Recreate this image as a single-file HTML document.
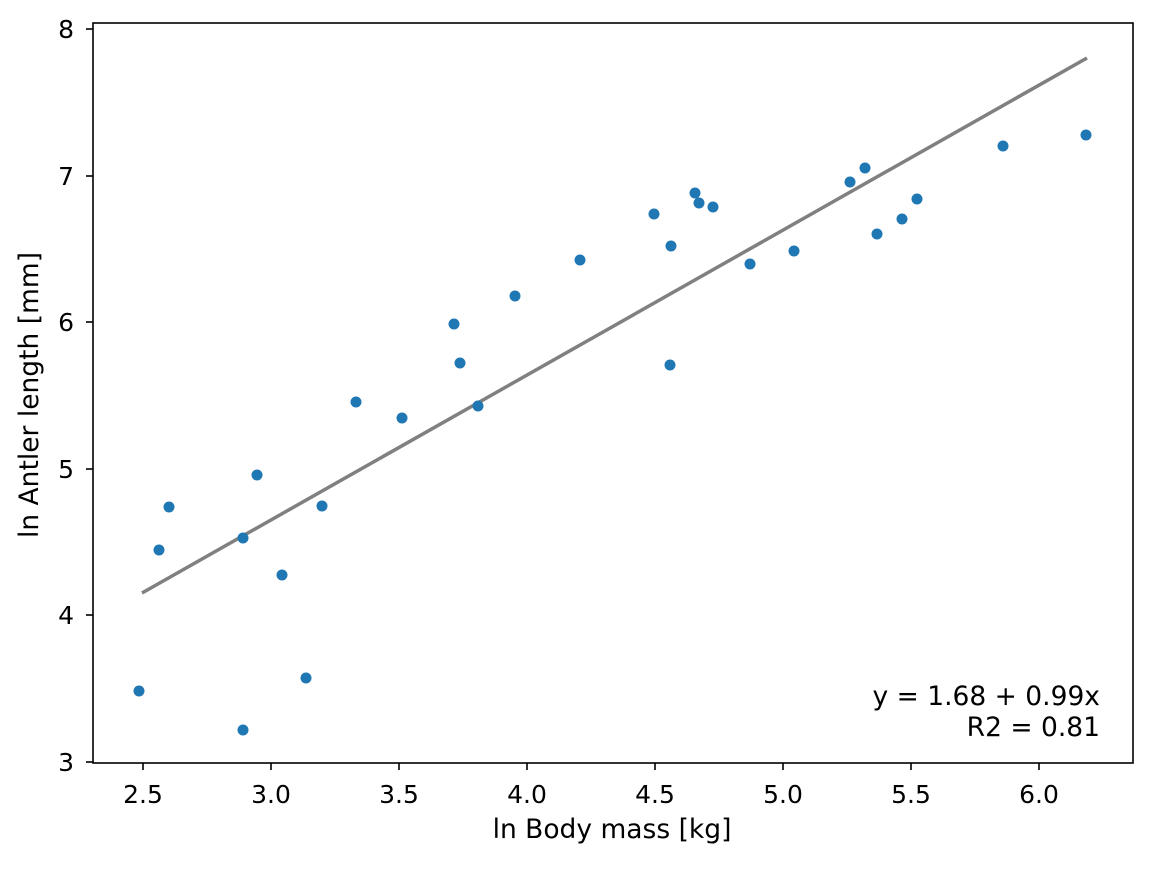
<!DOCTYPE html>
<html><head><meta charset="utf-8"><style>
html,body{margin:0;padding:0;background:#fff;}
svg text{font-family:"DejaVu Sans","Liberation Sans",sans-serif;fill:#000;}
</style></head><body>
<svg width="1152" height="864" viewBox="0 0 1152 864" xmlns="http://www.w3.org/2000/svg">
<rect width="1152" height="864" fill="#fff"/>
<line x1="142" y1="593" x2="1087" y2="58" stroke="#808080" stroke-width="3.5"/>
<g fill="#1f77b4">
<circle cx="139" cy="691" r="5.5"/><circle cx="159" cy="550" r="5.5"/><circle cx="169" cy="507" r="5.5"/>
<circle cx="243" cy="538" r="5.5"/><circle cx="243" cy="730" r="5.5"/><circle cx="257" cy="475" r="5.5"/>
<circle cx="282" cy="575" r="5.5"/><circle cx="306" cy="678" r="5.5"/><circle cx="322" cy="506" r="5.5"/>
<circle cx="356" cy="402" r="5.5"/><circle cx="402" cy="418" r="5.5"/><circle cx="454" cy="324" r="5.5"/>
<circle cx="460" cy="363" r="5.5"/><circle cx="478" cy="406" r="5.5"/><circle cx="515" cy="296" r="5.5"/>
<circle cx="580" cy="260" r="5.5"/><circle cx="654" cy="214" r="5.5"/><circle cx="671" cy="246" r="5.5"/>
<circle cx="670" cy="365" r="5.5"/><circle cx="695" cy="193" r="5.5"/><circle cx="699" cy="203" r="5.5"/>
<circle cx="713" cy="207" r="5.5"/><circle cx="750" cy="264" r="5.5"/><circle cx="794" cy="251" r="5.5"/>
<circle cx="850" cy="182" r="5.5"/><circle cx="865" cy="168" r="5.5"/><circle cx="877" cy="234" r="5.5"/>
<circle cx="902" cy="219" r="5.5"/><circle cx="917" cy="199" r="5.5"/><circle cx="1003" cy="146" r="5.5"/>
<circle cx="1086" cy="135" r="5.5"/>
</g>
<rect x="93" y="23" width="1040" height="740" fill="none" stroke="#000" stroke-width="1.6"/>
<g stroke="#000" stroke-width="1.6">
<line x1="143" y1="763" x2="143" y2="770"/><line x1="271" y1="763" x2="271" y2="770"/>
<line x1="399" y1="763" x2="399" y2="770"/><line x1="527" y1="763" x2="527" y2="770"/>
<line x1="655" y1="763" x2="655" y2="770"/><line x1="783" y1="763" x2="783" y2="770"/>
<line x1="911" y1="763" x2="911" y2="770"/><line x1="1039" y1="763" x2="1039" y2="770"/>
<line x1="86" y1="762" x2="93" y2="762"/><line x1="86" y1="615" x2="93" y2="615"/>
<line x1="86" y1="469" x2="93" y2="469"/><line x1="86" y1="322" x2="93" y2="322"/>
<line x1="86" y1="176" x2="93" y2="176"/><line x1="86" y1="29" x2="93" y2="29"/>
</g>
<g font-size="25" text-anchor="middle">
<text x="143" y="803">2.5</text><text x="271" y="803">3.0</text><text x="399" y="803">3.5</text>
<text x="527" y="803">4.0</text><text x="655" y="803">4.5</text><text x="783" y="803">5.0</text>
<text x="911" y="803">5.5</text><text x="1039" y="803">6.0</text>
</g>
<g font-size="25" text-anchor="end">
<text x="74" y="771">3</text><text x="74" y="624">4</text><text x="74" y="478">5</text>
<text x="74" y="331">6</text><text x="74" y="185">7</text><text x="74" y="38">8</text>
</g>
<text x="612" y="838" font-size="26.5" text-anchor="middle">ln Body mass [kg]</text>
<text transform="translate(38,395) rotate(-90)" font-size="26.5" text-anchor="middle">ln Antler length [mm]</text>
<text x="1100" y="705" font-size="26.5" text-anchor="end">y = 1.68 + 0.99x</text>
<text x="1100" y="736" font-size="26.5" text-anchor="end">R2 = 0.81</text>
</svg>
</body></html>
